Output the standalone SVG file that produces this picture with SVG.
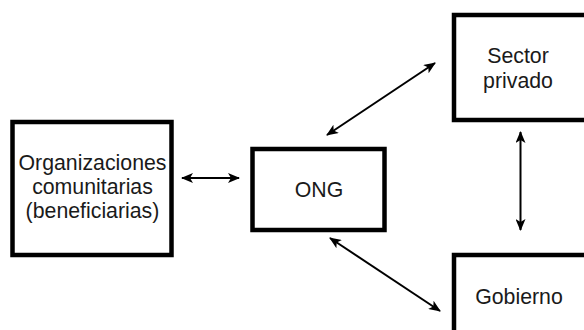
<svg xmlns="http://www.w3.org/2000/svg" width="584" height="330" viewBox="0 0 584 330">
  <style>
    .box { fill: #ffffff; stroke: #000000; stroke-width: 4.5; }
    .lbl { font-family: "Liberation Sans", Arial, sans-serif; font-size: 21.3px; fill: #1a1a1a; text-anchor: middle; }
    .link { stroke: #000000; stroke-width: 2; fill: none; marker-start: url(#head); marker-end: url(#head); }
  </style>
  <defs>
    <marker id="head" viewBox="0 0 12 10" refX="11" refY="5" markerWidth="12" markerHeight="10" markerUnits="userSpaceOnUse" orient="auto-start-reverse">
      <path d="M0,0 L12,5 L0,10 L3,5 z" fill="#000000"/>
    </marker>
  </defs>

  <rect width="584" height="330" fill="#ffffff"/>

  <!-- connectors -->
  <g id="connectors">
    <line class="link" x1="182" y1="178" x2="239" y2="178"/>
    <line class="link" x1="327" y1="135" x2="435" y2="63"/>
    <line class="link" x1="330" y1="238" x2="440" y2="311"/>
    <line class="link" x1="520.5" y1="132" x2="520.5" y2="230"/>
  </g>

  <g id="node-organizaciones">
    <rect class="box" x="12.5" y="122" width="159" height="133"/>
    <text class="lbl" x="92.5" y="170">Organizaciones</text>
    <text class="lbl" x="92.5" y="194">comunitarias</text>
    <text class="lbl" x="92.5" y="218">(beneficiarias)</text>
  </g>

  <g id="node-ong">
    <rect class="box" x="252.5" y="149" width="132" height="81"/>
    <text class="lbl" x="319" y="197">ONG</text>
  </g>

  <g id="node-sector-privado">
    <rect class="box" x="454" y="15" width="140" height="105"/>
    <text class="lbl" x="518" y="63">Sector</text>
    <text class="lbl" x="518" y="88">privado</text>
  </g>

  <g id="node-gobierno">
    <rect class="box" x="454" y="255" width="140" height="90"/>
    <text class="lbl" x="519" y="304">Gobierno</text>
  </g>
</svg>
